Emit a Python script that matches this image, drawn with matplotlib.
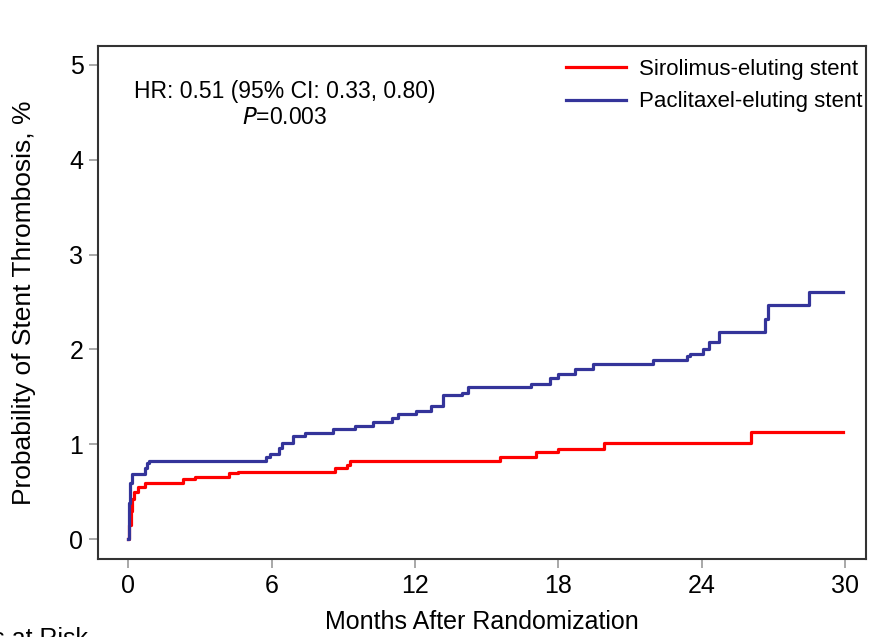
import matplotlib
matplotlib.use("Agg")
import matplotlib.pyplot as plt

plt.rcParams['font.family'] = ['Liberation Sans', 'DejaVu Sans']

# Kaplan-Meier style cumulative incidence (months, %)
ses_months = [0, 0.05, 0.1, 0.15, 0.25, 0.4, 0.7, 2.3, 2.8, 4.2, 4.6, 8.66, 9.16, 9.3,
              15.56, 17.07, 18.0, 19.9, 26.07, 29.9]
ses_prob = [0.0, 0.15, 0.3, 0.42, 0.5, 0.55, 0.59, 0.63, 0.65, 0.70, 0.71, 0.75, 0.78, 0.82,
            0.86, 0.92, 0.95, 1.01, 1.13, 1.13]

pes_months = [0, 0.03, 0.08, 0.15, 0.71, 0.8, 0.88, 5.77, 5.94, 6.3, 6.44, 6.9, 7.4, 8.58,
              9.5, 10.25, 11.05, 11.3, 12.05, 12.68, 13.18, 13.97, 14.2, 16.86, 17.66, 18.0,
              18.7, 19.46, 21.97, 23.4, 23.5, 24.05, 24.3, 24.7, 26.65, 26.75, 28.5, 29.9]
pes_prob = [0.0, 0.38, 0.59, 0.69, 0.75, 0.80, 0.82, 0.86, 0.90, 0.96, 1.01, 1.09, 1.12, 1.16,
            1.19, 1.23, 1.28, 1.32, 1.35, 1.40, 1.52, 1.54, 1.60, 1.64, 1.70, 1.74,
            1.79, 1.85, 1.89, 1.93, 1.95, 2.00, 2.08, 2.18, 2.32, 2.47, 2.60, 2.60]

x_ticks = [0, 6, 12, 18, 24, 30]
y_ticks = [0, 1, 2, 3, 4, 5]

fig = plt.figure(figsize=(8.75, 6.37), dpi=100)
ax = fig.add_axes([0.112, 0.1225, 0.878, 0.8055])

ax.step(ses_months, ses_prob, where='post', color='#ff0000', lw=2.3,
        label='Sirolimus-eluting stent')
ax.step(pes_months, pes_prob, where='post', color='#34349a', lw=2.3,
        label='Paclitaxel-eluting stent')

ax.set_xlim(-1.26, 30.88)
ax.set_ylim(-0.21, 5.2)
ax.set_xticks(x_ticks)
ax.set_yticks(y_ticks)
ax.tick_params(axis='both', direction='out', length=6.5, width=1.2, color='#999999',
               labelsize=18, pad=4)
for sp in ax.spines.values():
    sp.set_color('#333333')
    sp.set_linewidth(1.5)

ax.set_xlabel('Months After Randomization', fontsize=18)
ax.set_ylabel('Probability of Stent Thrombosis, %', fontsize=19)
ax.xaxis.set_label_coords(0.5, -0.1)
ax.yaxis.set_label_coords(-0.081, 0.5)

ax.text(6.57, 4.72, 'HR: 0.51 (95% CI: 0.33, 0.80)', fontsize=16.5, ha='center', va='center')
ax.text(6.57, 4.44, '$\\it{P}$=0.003', fontsize=16.5, ha='center', va='center')

leg = ax.legend(loc='upper right', bbox_to_anchor=(1.012, 1.0), frameon=False, fontsize=16,
                handlelength=2.7, labelspacing=0.5, borderaxespad=0.2, handletextpad=0.55)

fig.text(88 / 875, -0.014, 'No. of Patients at Risk', fontsize=18, ha='right', va='baseline')

fig.savefig('out.png', dpi=100)
